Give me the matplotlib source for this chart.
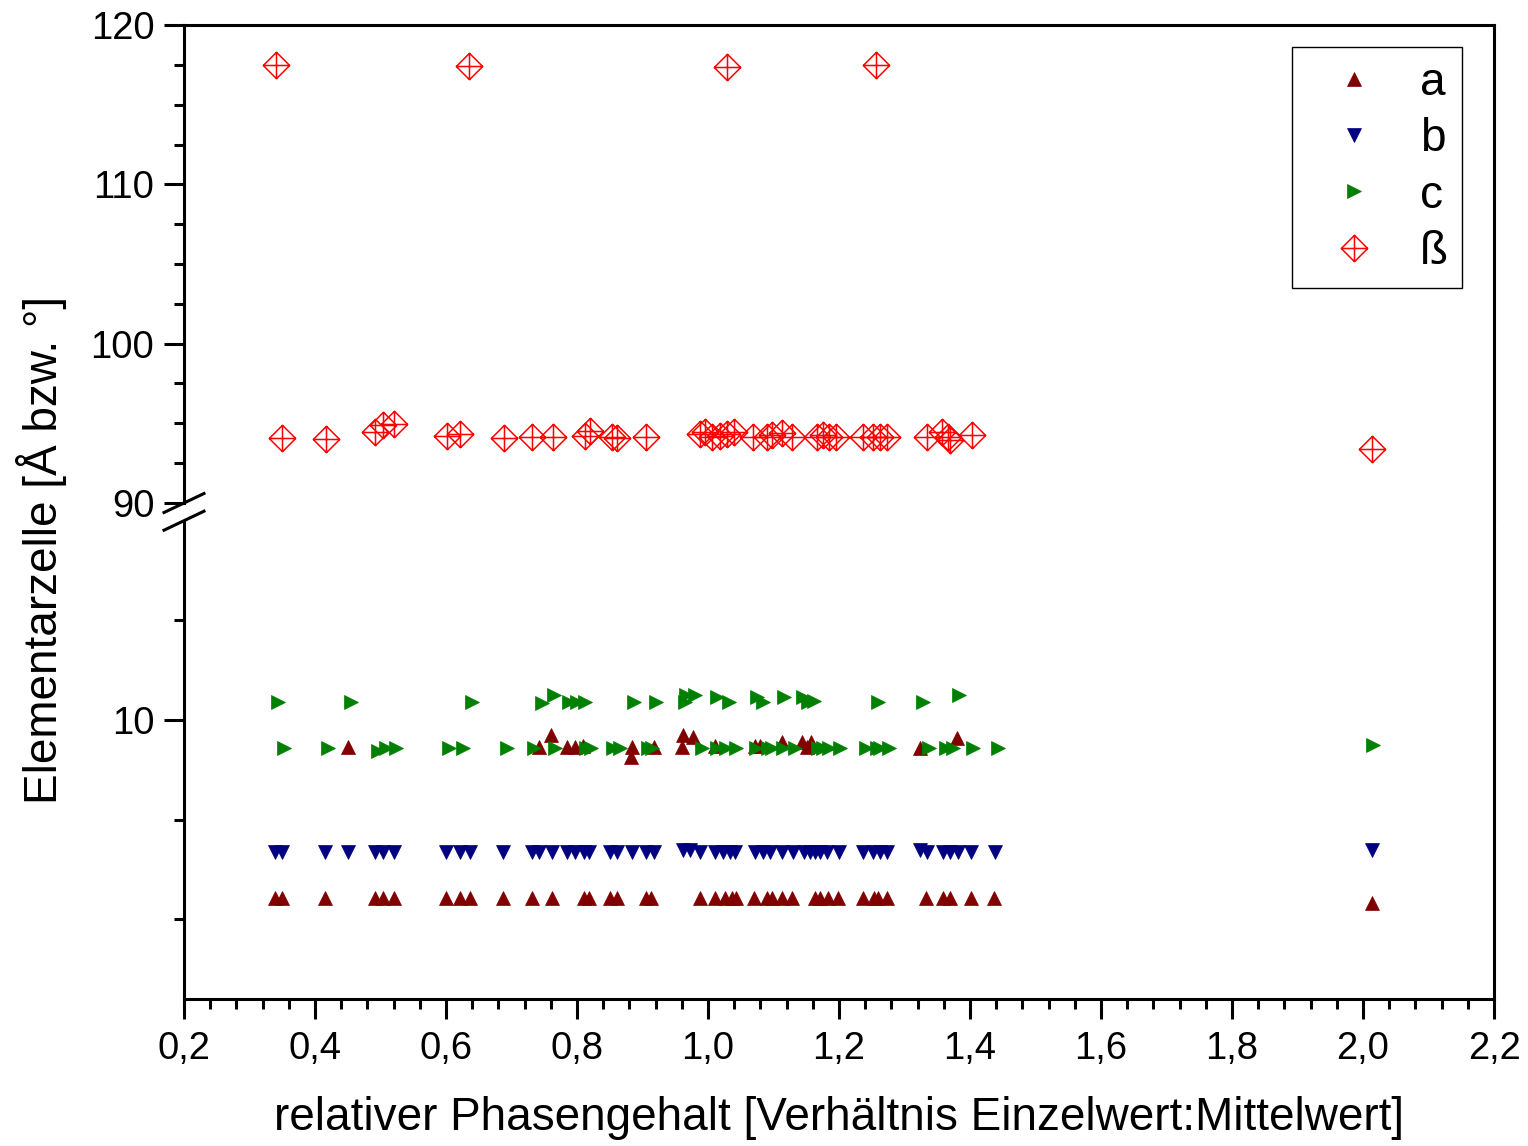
import matplotlib.pyplot as plt
from matplotlib.path import Path
from matplotlib.lines import Line2D
from matplotlib.ticker import MultipleLocator, FixedLocator, FuncFormatter

plt.rcParams['font.family'] = ['Liberation Sans', 'DejaVu Sans']

# Gitterparameter a (Å)
a_x = [0.339, 0.349, 0.416, 0.492, 0.504, 0.520, 0.600, 0.622, 0.637, 0.687,
       0.731, 0.762, 0.810, 0.819, 0.851, 0.861, 0.906, 0.913, 0.988, 1.010,
       1.026, 1.036, 1.043, 1.070, 1.090, 1.098, 1.113, 1.129, 1.163, 1.171,
       1.183, 1.199, 1.236, 1.254, 1.260, 1.273, 1.333, 1.359, 1.369, 1.402,
       1.437, 2.013,
       0.451, 0.742, 0.761, 0.784, 0.797, 0.809, 0.882, 0.884, 0.918, 0.961,
       0.962, 0.977, 1.011, 1.072, 1.079, 1.113, 1.143, 1.151, 1.158, 1.323,
       1.380]
a_y = [5.53, 5.53, 5.53, 5.53, 5.53, 5.53, 5.53, 5.53, 5.53, 5.53,
       5.53, 5.53, 5.53, 5.53, 5.53, 5.53, 5.53, 5.53, 5.53, 5.53,
       5.53, 5.53, 5.53, 5.53, 5.53, 5.53, 5.53, 5.53, 5.53, 5.53,
       5.53, 5.53, 5.53, 5.53, 5.53, 5.53, 5.53, 5.53, 5.53, 5.53,
       5.53, 5.40,
       9.33, 9.33, 9.62, 9.33, 9.33, 9.35, 9.06, 9.33, 9.33, 9.33,
       9.62, 9.58, 9.35, 9.35, 9.35, 9.45, 9.45, 9.33, 9.45, 9.30,
       9.54]

# Gitterparameter b (Å)
b_x = [0.339, 0.349, 0.416, 0.451, 0.492, 0.504, 0.520, 0.600, 0.622, 0.637,
       0.687, 0.731, 0.742, 0.762, 0.784, 0.797, 0.810, 0.819, 0.851, 0.861,
       0.884, 0.906, 0.917, 0.962, 0.973, 0.988, 1.011, 1.023, 1.033, 1.041,
       1.071, 1.084, 1.095, 1.113, 1.130, 1.146, 1.156, 1.163, 1.171, 1.181,
       1.200, 1.236, 1.252, 1.263, 1.273, 1.324, 1.334, 1.359, 1.369, 1.381,
       1.402, 1.438, 2.013]
b_y = [6.70, 6.70, 6.70, 6.69, 6.70, 6.70, 6.70, 6.70, 6.70, 6.70,
       6.70, 6.70, 6.70, 6.70, 6.70, 6.70, 6.70, 6.70, 6.70, 6.70,
       6.70, 6.70, 6.70, 6.74, 6.73, 6.70, 6.70, 6.70, 6.70, 6.70,
       6.70, 6.70, 6.70, 6.70, 6.70, 6.70, 6.70, 6.70, 6.70, 6.70,
       6.70, 6.70, 6.70, 6.70, 6.70, 6.73, 6.70, 6.70, 6.70, 6.70,
       6.70, 6.70, 6.74]

# Gitterparameter c (Å)
c_x = [0.343, 0.455, 0.640, 0.746, 0.765, 0.788, 0.800, 0.812, 0.887, 0.921,
       0.965, 0.967, 0.980, 1.014, 1.032, 1.075, 1.084, 1.116, 1.145, 1.153,
       1.162, 1.260, 1.328, 1.383,
       0.353, 0.420, 0.496, 0.509, 0.523, 0.605, 0.626, 0.693, 0.735, 0.766,
       0.814, 0.822, 0.855, 0.865, 0.909, 0.915, 0.991, 1.013, 1.028, 1.043,
       1.074, 1.092, 1.097, 1.115, 1.133, 1.168, 1.176, 1.185, 1.202, 1.241,
       1.258, 1.263, 1.277, 1.337, 1.363, 1.374, 1.405, 1.442, 2.016]
c_y = [10.45, 10.45, 10.45, 10.43, 10.63, 10.45, 10.45, 10.45, 10.45, 10.45,
       10.45, 10.63, 10.63, 10.58, 10.45, 10.58, 10.45, 10.58, 10.58, 10.45,
       10.48, 10.45, 10.45, 10.63,
       9.29, 9.29, 9.22, 9.29, 9.29, 9.29, 9.29, 9.29, 9.29, 9.29,
       9.29, 9.29, 9.29, 9.29, 9.29, 9.29, 9.29, 9.29, 9.29, 9.29,
       9.29, 9.29, 9.29, 9.29, 9.29, 9.29, 9.29, 9.29, 9.29, 9.29,
       9.29, 9.29, 9.29, 9.29, 9.29, 9.29, 9.29, 9.29, 9.37]

# Winkel beta (°)
beta_x = [0.349, 0.417, 0.492, 0.504, 0.520, 0.601, 0.621, 0.689, 0.731, 0.763,
          0.812, 0.820, 0.853, 0.861, 0.906, 0.988, 0.995, 1.006, 1.018, 1.029,
          1.039, 1.069, 1.090, 1.097, 1.113, 1.128, 1.166, 1.176, 1.184, 1.196,
          1.237, 1.252, 1.263, 1.273, 1.334, 1.357, 1.367, 1.369, 1.403, 2.013,
          0.340, 0.635, 1.029, 1.256]
beta_y = [94.06, 94.00, 94.44, 94.89, 94.94, 94.22, 94.31, 94.10, 94.12, 94.12,
          94.22, 94.52, 94.16, 94.06, 94.12, 94.31, 94.45, 94.16, 94.22, 94.31,
          94.47, 94.12, 94.16, 94.27, 94.41, 94.16, 94.16, 94.27, 94.12, 94.16,
          94.16, 94.16, 94.12, 94.12, 94.16, 94.47, 94.16, 93.95, 94.27, 93.37,
          117.48, 117.45, 117.35, 117.48]

W, H = 1528, 1146
fig = plt.figure(figsize=(W / 100, H / 100), dpi=100)

L, R = 184 / W, 1494 / W
top_lo = 1 - 503 / H
bot_hi = 1 - 520.7 / H
ax_top = fig.add_axes([L, top_lo, R - L, (503 - 25) / H])
ax_bot = fig.add_axes([L, 1 - 999 / H, R - L, (999 - 520.7) / H])

# Raute mit Kreuz fuer beta
beta_marker = Path([(0, 1), (1, 0), (0, -1), (-1, 0), (0, 1),
                    (0, 1), (0, -1), (-1, 0), (1, 0)],
                   [Path.MOVETO, Path.LINETO, Path.LINETO, Path.LINETO, Path.CLOSEPOLY,
                    Path.MOVETO, Path.LINETO, Path.MOVETO, Path.LINETO])

ha, = ax_bot.plot(a_x, a_y, ls='none', marker='^', ms=10.5, color='#800000', mew=0.5)
hb, = ax_bot.plot(b_x, b_y, ls='none', marker='v', ms=10.5, color='#000080', mew=0.5)
hc, = ax_bot.plot(c_x, c_y, ls='none', marker='>', ms=10.5, color='#008000', mew=0.5)
hbeta, = ax_top.plot(beta_x, beta_y, ls='none', marker=beta_marker, ms=19,
                     mfc='none', mec='#ff0000', mew=1.1)

lw = 2.2
for ax in (ax_top, ax_bot):
    ax.set_xlim(0.2, 2.2)
    for s in ax.spines.values():
        s.set_linewidth(lw)
    ax.tick_params(which='both', direction='out', width=lw, top=False, right=False)
    ax.tick_params(which='major', length=14.4, labelsize=27.5, pad=7)
    ax.tick_params(which='minor', length=7.2)
ax_bot.tick_params(axis='x', which='major', pad=9)

ax_top.spines['bottom'].set_visible(False)
ax_bot.spines['top'].set_visible(False)
ax_top.tick_params(which='both', bottom=False, labelbottom=False)

ax_top.set_ylim(90, 120)
ax_top.set_yticks([90, 100, 110, 120])
ax_top.yaxis.set_minor_locator(MultipleLocator(2.5))

ax_bot.set_ylim(3, 15)
ax_bot.set_yticks([10])
ax_bot.yaxis.set_minor_locator(FixedLocator([5, 7.5, 12.5]))
ax_bot.xaxis.set_major_locator(MultipleLocator(0.2))
ax_bot.xaxis.set_minor_locator(MultipleLocator(0.04))
ax_bot.xaxis.set_major_formatter(FuncFormatter(lambda v, p: f'{v:.1f}'.replace('.', ',')))

# rechte Achse durchgehend, links Bruchzeichen
fig.add_artist(Line2D([R, R], [top_lo, bot_hi], transform=fig.transFigure,
                      color='k', lw=lw, solid_capstyle='butt'))
dx, dy = 20 / W, 9.5 / H
for y0 in (top_lo, bot_hi):
    fig.add_artist(Line2D([L - dx, L + dx], [y0 - dy, y0 + dy],
                          transform=fig.transFigure, color='k', lw=lw))

fig.text(839 / W, 1 - 1118 / H, 'relativer Phasengehalt [Verhältnis Einzelwert:Mittelwert]',
         fontsize=33, ha='center', va='center')
fig.text(42 / W, 1 - 550 / H, 'Elementarzelle [Å bzw. °]',
         fontsize=33, rotation=90, ha='center', va='center')

leg = fig.legend([ha, hb, hc, hbeta], ['a', 'b', 'c', 'ß'],
                 loc='upper right', bbox_to_anchor=(1462 / W, 1 - 47 / H),
                 bbox_transform=fig.transFigure, borderaxespad=0,
                 fontsize=33, numpoints=1, fancybox=False, framealpha=1,
                 edgecolor='k', borderpad=0.3, handlelength=2.1,
                 handletextpad=0.4, labelspacing=0.27)
leg.get_frame().set_linewidth(1.0)

plt.savefig('out.png', dpi=100)
